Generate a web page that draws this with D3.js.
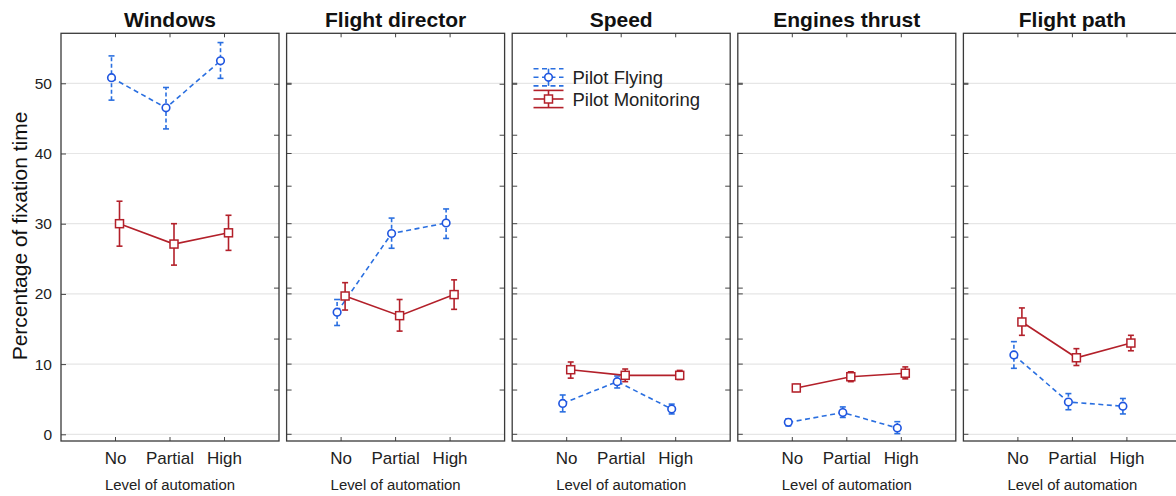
<!DOCTYPE html>
<html>
<head>
<meta charset="utf-8">
<script src="https://cdn.jsdelivr.net/npm/d3@7"></script>
<style>
  html, body { margin: 0; padding: 0; background: #fff; }
  svg { display: block; font-family: "Liberation Sans", Arial, sans-serif; }
</style>
</head>
<body>
<svg id="chart" width="1176" height="496"></svg>
<script>
// Areas of interest, one panel each
const panels = ["Windows", "Flight director", "Speed", "Engines thrust", "Flight path"];
const categories = ["No", "Partial", "High"];
const yTicks = [0, 10, 20, 30, 40, 50];

// Pilot Flying: mean and error-bar limits per panel (No, Partial, High)
const pfMean = [[50.8, 46.5, 53.2], [17.4, 28.6, 30.1], [4.4, 7.5, 3.6], [1.7, 3.1, 0.9], [11.3, 4.6, 4.0]];
const pfLow  = [[47.6, 43.5, 50.7], [15.5, 26.5, 27.9], [3.2, 6.6, 2.9], [1.2, 2.4, 0.1], [9.4, 3.5, 2.9]];
const pfHigh = [[53.9, 49.4, 55.8], [19.2, 30.8, 32.1], [5.6, 8.3, 4.3], [2.2, 3.9, 1.8], [13.2, 5.8, 5.1]];

// Pilot Monitoring: mean and error-bar limits per panel
const pmMean = [[30.0, 27.1, 28.7], [19.7, 16.9, 19.9], [9.2, 8.4, 8.4], [6.6, 8.2, 8.7], [16.0, 10.9, 13.0]];
const pmLow  = [[26.8, 24.1, 26.2], [17.7, 14.7, 17.8], [8.0, 7.5, 7.8], [6.1, 7.5, 7.9], [14.1, 9.8, 11.9]];
const pmHigh = [[33.2, 30.0, 31.2], [21.6, 19.2, 22.0], [10.3, 9.3, 9.1], [7.1, 8.9, 9.6], [18.0, 12.2, 14.1]];

const seriesNames = ["Pilot Flying", "Pilot Monitoring"];

const svg = d3.select("#chart");
const W = 1176, H = 496;

const panelLeft0 = 61, panelW = 218, panelStep = 225.6;
const plotTop = 33.3, plotBottom = 441;

const y = d3.scaleLinear().domain([-0.954, 57.12]).range([plotBottom, plotTop]);
const panelX = d3.scaleLinear().domain([0, 1]).range([panelLeft0, panelLeft0 + panelStep]);

const PF = { color: "#1f55e0", bar: "#2a6fe0", dash: "5,3.5" };
const PM = { color: "#b3202a", bar: "#b3202a", dash: null };

svg.append("defs").append("clipPath").attr("id", "page")
  .append("rect").attr("x", 0).attr("y", 0).attr("width", W).attr("height", H);

panels.forEach((name, p) => {
  const x0 = panelX(p);
  const x = d3.scalePoint().domain(categories).range([x0, x0 + panelW]).padding(1);
  const g = svg.append("g").attr("clip-path", "url(#page)");

  // gridlines
  g.selectAll("line.grid").data(yTicks).join("line")
    .attr("x1", x0).attr("x2", x0 + panelW)
    .attr("y1", d => y(d)).attr("y2", d => y(d))
    .attr("stroke", "#e6e6e6").attr("stroke-width", 1.2);

  // left axis labels (first panel only)
  if (p === 0) {
    const ax = d3.axisLeft(y).tickValues(yTicks).tickSize(-5).tickPadding(9).tickFormat(d3.format("d"));
    const a = g.append("g").attr("transform", `translate(${x0},0)`).call(ax);
    a.select(".domain").remove();
    a.selectAll("text").attr("font-size", 15.5).attr("fill", "#222")
      .attr("font-family", "'Liberation Sans', Arial, sans-serif");
    a.selectAll("line").attr("stroke", "#444");
  } else {
    g.selectAll("line.lt").data(yTicks).join("line")
      .attr("x1", x0).attr("x2", x0 + 5)
      .attr("y1", d => y(d)).attr("y2", d => y(d))
      .attr("stroke", "#444");
  }

  // evenly spaced inner ticks on both sides
  const divs = d3.range(1, 8).map(i => plotTop + (plotBottom - plotTop) * i / 8);
  [[x0, 1], [x0 + panelW, -1]].forEach(([xx, dir]) => {
    if (p === 0 && dir === 1) return;
    g.selectAll(null).data(divs).join("line")
      .attr("x1", xx).attr("x2", xx + dir * 5)
      .attr("y1", d => d).attr("y2", d => d)
      .attr("stroke", "#444");
  });

  // category ticks top and bottom
  g.selectAll(null).data(categories).join("line")
    .attr("x1", d => x(d)).attr("x2", d => x(d))
    .attr("y1", plotBottom).attr("y2", plotBottom - 4).attr("stroke", "#444");
  g.selectAll(null).data(categories).join("line")
    .attr("x1", d => x(d)).attr("x2", d => x(d))
    .attr("y1", plotTop).attr("y2", plotTop + 4).attr("stroke", "#444");

  // category labels
  g.selectAll(null).data(categories).join("text")
    .attr("x", d => x(d)).attr("y", 463.5)
    .attr("text-anchor", "middle").attr("font-size", 17).attr("fill", "#222")
    .text(d => d);

  g.append("text").attr("x", x(categories[1])).attr("y", 490)
    .attr("text-anchor", "middle").attr("font-size", 14.9).attr("fill", "#222")
    .text("Level of automation");

  // panel title
  g.append("text").attr("x", x(categories[1])).attr("y", 26.5)
    .attr("text-anchor", "middle").attr("font-size", 21).attr("font-weight", "bold")
    .attr("fill", "#111").text(name);

  // series
  const drawSeries = (mean, lo, hi, st, off, marker) => {
    const pts = categories.map((c, i) => ({ x: x(c) + off, m: mean[p][i], l: lo[p][i], h: hi[p][i] }));
    g.append("path")
      .attr("d", d3.line().x(d => d.x).y(d => y(d.m))(pts))
      .attr("fill", "none").attr("stroke", st.bar).attr("stroke-width", 1.6)
      .attr("stroke-dasharray", st.dash);
    const eb = g.selectAll(null).data(pts).join("g");
    eb.append("line").attr("x1", d => d.x).attr("x2", d => d.x)
      .attr("y1", d => y(d.l)).attr("y2", d => y(d.h))
      .attr("stroke", st.bar).attr("stroke-width", 1.6)
      .attr("stroke-dasharray", st.dash ? "4,2.5" : null);
    eb.append("line").attr("x1", d => d.x - 3).attr("x2", d => d.x + 3)
      .attr("y1", d => y(d.l)).attr("y2", d => y(d.l))
      .attr("stroke", st.bar).attr("stroke-width", 1.6);
    eb.append("line").attr("x1", d => d.x - 3).attr("x2", d => d.x + 3)
      .attr("y1", d => y(d.h)).attr("y2", d => y(d.h))
      .attr("stroke", st.bar).attr("stroke-width", 1.6);
    if (marker === "circle") {
      eb.append("circle").attr("cx", d => d.x).attr("cy", d => y(d.m)).attr("r", 3.8)
        .attr("fill", "#fff").attr("stroke", st.color).attr("stroke-width", 1.6);
    } else {
      eb.append("rect").attr("x", d => d.x - 4).attr("y", d => y(d.m) - 4)
        .attr("width", 8).attr("height", 8)
        .attr("fill", "#fff").attr("stroke", st.color).attr("stroke-width", 1.5);
    }
  };
  drawSeries(pfMean, pfLow, pfHigh, PF, -4, "circle");
  drawSeries(pmMean, pmLow, pmHigh, PM, 4, "square");

  // frame
  g.append("rect").attr("x", x0).attr("y", plotTop).attr("width", panelW).attr("height", plotBottom - plotTop)
    .attr("fill", "none").attr("stroke", "#3a3a3a").attr("stroke-width", 1.3);

  // legend in the Speed panel
  if (p === 2) {
    const lg = g.append("g");
    const lx = 548.5;
    [[PF, "circle", 77.3, seriesNames[0]], [PM, "square", 99, seriesNames[1]]].forEach(([st, mk, ly, label]) => {
      const half = 8.6;
      [ly - half, ly, ly + half].forEach(yy => {
        lg.append("line").attr("x1", lx - 15).attr("x2", lx + 15)
          .attr("y1", yy).attr("y2", yy)
          .attr("stroke", st.bar).attr("stroke-width", 1.6)
          .attr("stroke-dasharray", st.dash);
      });
      lg.append("line").attr("x1", lx).attr("x2", lx)
        .attr("y1", ly - half).attr("y2", ly + half)
        .attr("stroke", st.bar).attr("stroke-width", 1.6);
      if (mk === "circle") {
        lg.append("circle").attr("cx", lx).attr("cy", ly).attr("r", 3.8)
          .attr("fill", "#fff").attr("stroke", st.color).attr("stroke-width", 1.6);
      } else {
        lg.append("rect").attr("x", lx - 4).attr("y", ly - 4).attr("width", 8).attr("height", 8)
          .attr("fill", "#fff").attr("stroke", st.color).attr("stroke-width", 1.5);
      }
      lg.append("text").attr("x", 572.5).attr("y", ly + 6.6)
        .attr("font-size", 18.5).attr("fill", "#222").text(label);
    });
  }
});

// y-axis title
svg.append("text")
  .attr("transform", "translate(27,236) rotate(-90)")
  .attr("text-anchor", "middle").attr("font-size", 21).attr("fill", "#111")
  .text("Percentage of fixation time");
</script>
</body>
</html>
